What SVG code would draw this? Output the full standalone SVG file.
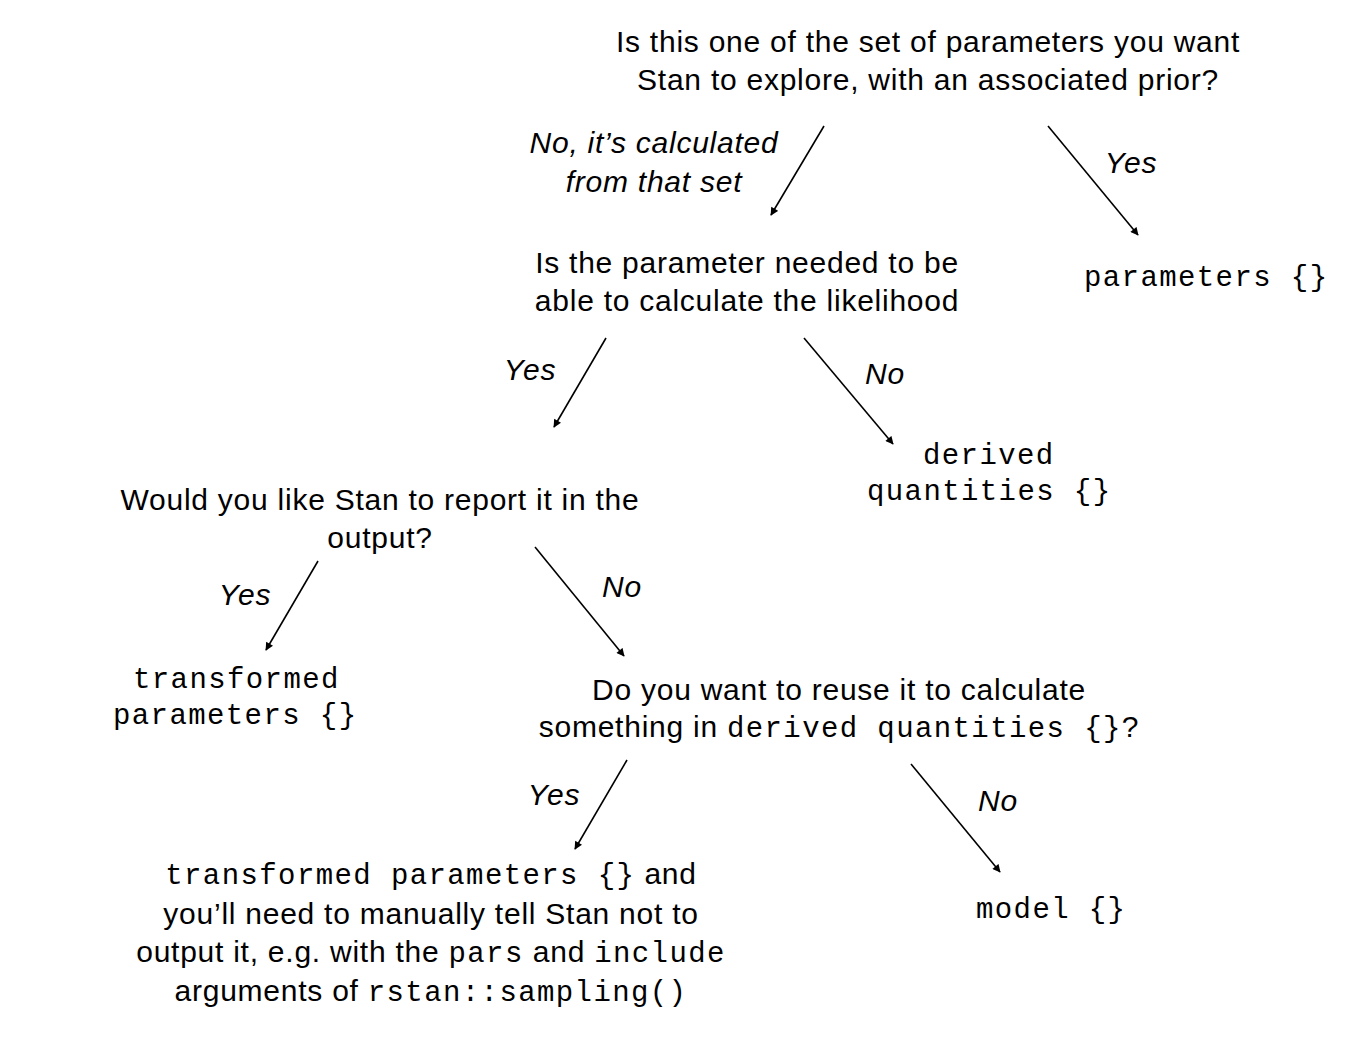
<svg xmlns="http://www.w3.org/2000/svg" width="1361" height="1040" viewBox="0 0 1361 1040">
<style>
.q{font-family:"Liberation Sans",Arial,sans-serif;font-size:30px;letter-spacing:0.75px;fill:#000;text-anchor:middle}
.l{font-family:"Liberation Sans",Arial,sans-serif;font-size:30px;letter-spacing:0.75px;font-style:italic;fill:#000;text-anchor:middle}
.m{font-family:"Liberation Mono","Courier New",monospace;font-size:29px;letter-spacing:1.4px;fill:#000}
.c{stroke:#000;stroke-width:1.6;fill:none;marker-end:url(#ah)}
</style>
<defs>
<marker id="ah" viewBox="0 0 10 10" refX="9" refY="5" markerWidth="9" markerHeight="8" markerUnits="userSpaceOnUse" orient="auto">
<path d="M0,0 L10,5 L0,10 z" fill="#000"/>
</marker>
</defs>
<rect width="1361" height="1040" fill="#fff"/>
<g id="connectors">
<line class="c" x1="824" y1="126" x2="771" y2="215"/>
<line class="c" x1="1048" y1="126" x2="1138" y2="235"/>
<line class="c" x1="606" y1="338" x2="554" y2="427"/>
<line class="c" x1="804" y1="338" x2="893" y2="444"/>
<line class="c" x1="318" y1="561" x2="266" y2="650"/>
<line class="c" x1="535" y1="547" x2="624" y2="656"/>
<line class="c" x1="627" y1="760" x2="575" y2="849"/>
<line class="c" x1="911" y1="764" x2="1000" y2="872"/>
<text class="l" x="654" y="153">No, it’s calculated</text>
<text class="l" x="654" y="192">from that set</text>
<text class="l" x="1131" y="173">Yes</text>
<text class="l" x="530" y="380">Yes</text>
<text class="l" x="885" y="384">No</text>
<text class="l" x="245" y="605">Yes</text>
<text class="l" x="622" y="597">No</text>
<text class="l" x="554" y="805">Yes</text>
<text class="l" x="998" y="811">No</text>
</g>
<g id="q1">
<text class="q" x="928" y="52">Is this one of the set of parameters you want</text>
<text class="q" x="928" y="90">Stan to explore, with an associated prior?</text>
</g>
<g id="parameters">
<text class="m" x="1084" y="286">parameters {}</text>
</g>
<g id="q2">
<text class="q" x="747" y="273">Is the parameter needed to be</text>
<text class="q" x="747" y="311">able to calculate the likelihood</text>
</g>
<g id="derived">
<text class="m" x="923" y="464">derived</text>
<text class="m" x="867" y="500">quantities {}</text>
</g>
<g id="q3">
<text class="q" x="380" y="510">Would you like Stan to report it in the</text>
<text class="q" x="380" y="548">output?</text>
</g>
<g id="transformed">
<text class="m" x="133" y="688">transformed</text>
<text class="m" x="113" y="724">parameters {}</text>
</g>
<g id="q4">
<text class="q" x="839" y="700">Do you want to reuse it to calculate</text>
<text class="q" x="839" y="737">something in <tspan class="m">derived quantities {}</tspan>?</text>
</g>
<g id="model">
<text class="m" x="976" y="918">model {}</text>
</g>
<g id="tp-manual">
<text class="q" x="431" y="884"><tspan class="m">transformed parameters {}</tspan> and</text>
<text class="q" x="431" y="924">you’ll need to manually tell Stan not to</text>
<text class="q" x="431" y="962">output it, e.g. with the <tspan class="m">pars</tspan> and <tspan class="m">include</tspan></text>
<text class="q" x="431" y="1001">arguments of <tspan class="m">rstan::sampling()</tspan></text>
</g>
</svg>
